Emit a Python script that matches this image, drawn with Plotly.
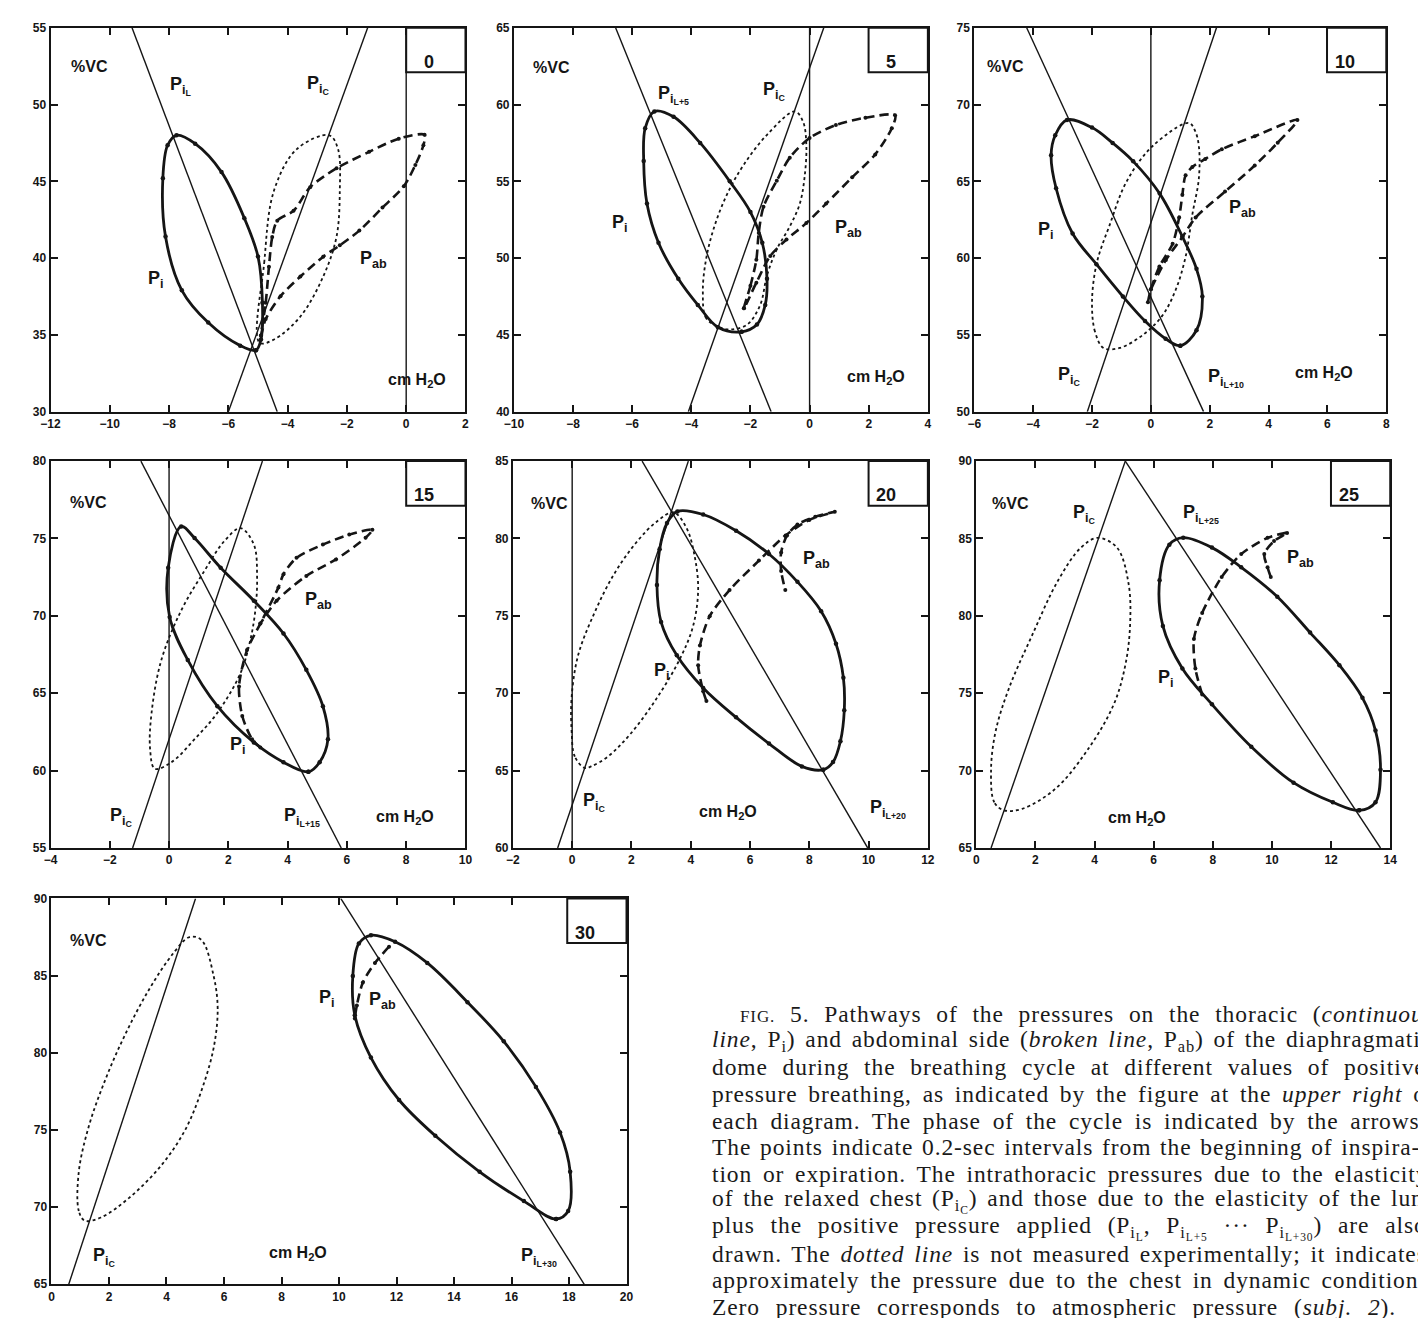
import plotly.graph_objects as go

W, H = 1418, 1318

# ---------------- data (x: cm H2O, y: %VC) ----------------
PRESSURES = ["0", "5", "10", "15", "20", "25", "30"]
LUNG_SUFFIX = ["L", "L+5", "L+10", "L+15", "L+20", "L+25", "L+30"]
X_RANGES = [(-12, 2), (-10, 4), (-6, 8), (-4, 10), (-2, 12), (0, 14), (0, 20)]
Y_RANGES = [(30, 55), (40, 65), (50, 75), (55, 80), (60, 85), (65, 90), (65, 90)]

# straight elastic lines (lung + applied pressure, relaxed chest)
PIL_LINES = [((-9.25, 55), (-4.35, 30)), ((-6.56, 65), (-1.30, 40)), ((-4.22, 75), (1.79, 50)),
             ((-0.95, 80), (5.81, 55)), ((2.36, 85), (9.97, 60)), ((5.04, 90), (13.67, 65)),
             ((10.06, 90), (18.53, 65))]
PIC_LINES = [((-6.0, 30), (-1.3, 55)), ((-4.1, 40), (0.48, 65)), ((-2.16, 50), (2.23, 75)),
             ((-1.23, 55), (3.15, 80)), ((-0.49, 60), (3.92, 85)), ((0.5, 65), (5.04, 90)),
             ((0.6, 65), (5.01, 90))]

# P_i (thoracic side, continuous line)
P0_PI = [(-5.07, 34.0), (-5.6, 34.3), (-6.68, 35.8), (-7.57, 37.9), (-8.12, 41.4), (-8.21, 45.2),
         (-8.05, 47.35), (-7.75, 48.0), (-7.12, 47.45), (-6.23, 45.6), (-5.46, 42.6), (-5.0, 40.1),
         (-4.85, 37.1), (-4.9, 34.7), (-5.07, 34.0)]
P5_PI = [(-2.3, 45.2), (-3.1, 45.5), (-3.78, 46.95), (-4.44, 48.65), (-5.11, 51.0), (-5.5, 53.55),
         (-5.61, 56.32), (-5.56, 58.46), (-5.25, 59.55), (-4.6, 59.2), (-3.7, 57.5), (-2.7, 55.0),
         (-2.0, 53.0), (-1.6, 51.0), (-1.44, 48.65), (-1.5, 46.95), (-1.78, 45.67), (-2.3, 45.2)]
P10_PI = [(1.0, 54.3), (0.5, 54.75), (-0.2, 55.9), (-0.95, 57.5), (-1.85, 59.6), (-2.66, 61.6),
          (-3.22, 64.55), (-3.39, 66.7), (-3.25, 68.0), (-2.85, 69.0), (-2.0, 68.5), (-1.3, 67.5),
          (-0.6, 66.3), (0.3, 64.2), (1.07, 61.4), (1.55, 59.3), (1.75, 57.5), (1.55, 55.3), (1.0, 54.3)]
P15_PI = [(4.7, 59.92), (3.86, 60.54), (2.86, 61.82), (1.63, 64.16), (0.63, 67.15), (0.02, 69.92),
          (-0.03, 73.11), (0.41, 75.78), (0.86, 75.03), (1.74, 73.11), (2.86, 70.98), (3.86, 68.86),
          (4.63, 66.51), (5.19, 64.16), (5.36, 62.03), (5.08, 60.54), (4.7, 59.92)]
P20_PI = [(8.47, 65.06), (7.75, 65.27), (6.64, 66.75), (5.53, 68.44), (4.42, 70.34), (3.53, 72.45),
          (3.0, 74.6), (2.86, 77.0), (2.95, 79.3), (3.2, 81.0), (3.55, 81.75), (4.42, 81.55),
          (5.53, 80.5), (6.64, 79.0), (7.6, 77.2), (8.4, 75.3), (8.9, 73.2), (9.15, 71.0), (9.18, 68.9),
          (9.05, 66.9), (8.8, 65.55), (8.47, 65.06)]
P25_PI = [(12.95, 67.43), (12.06, 67.95), (10.73, 69.22), (9.3, 71.54), (7.97, 74.28), (6.97, 76.6),
          (6.31, 79.35), (6.2, 82.3), (6.53, 84.6), (7.0, 85.05), (7.97, 84.41), (8.96, 83.14),
          (10.18, 81.24), (11.29, 78.92), (12.28, 76.81), (13.06, 74.7), (13.5, 72.59), (13.67, 70.06),
          (13.5, 67.95), (12.95, 67.43)]
P30_PI = [(17.55, 69.23), (16.43, 70.39), (14.89, 72.29), (13.35, 74.62), (12.09, 76.94), (11.11, 79.69),
          (10.55, 82.43), (10.48, 84.97), (10.69, 87.08), (11.11, 87.61), (11.95, 87.19), (13.07, 85.82),
          (14.47, 83.28), (15.73, 80.74), (16.85, 77.79), (17.69, 74.83), (18.04, 72.29), (17.97, 69.75),
          (17.55, 69.23)]

# chest in dynamic conditions (dotted line)
P0_PIC = [(-4.95, 34.5), (-4.79, 39.7), (-4.46, 44.4), (-3.69, 47.1), (-2.6, 48.0), (-2.30, 47.1),
          (-2.24, 44.4), (-2.35, 41.4), (-2.80, 38.8), (-3.57, 36.2), (-4.46, 34.7), (-4.95, 34.5)]
P5_PIC = [(-3.05, 45.5), (-3.5, 46.1), (-3.61, 47.8), (-3.5, 49.93), (-3.22, 52.06), (-2.78, 54.2),
          (-2.22, 56.1), (-1.44, 58.03), (-0.5, 59.55), (-0.22, 58.88), (-0.11, 57.39), (-0.17, 55.26),
          (-0.33, 53.55), (-0.67, 52.06), (-1.11, 50.57), (-1.44, 48.87), (-1.67, 46.95), (-2.11, 45.67),
          (-2.67, 45.35), (-3.05, 45.5)]
P10_PIC = [(-1.61, 54.15), (-1.9, 55.22), (-2.0, 57.13), (-1.84, 59.67), (-1.39, 62.21), (-0.83, 64.97),
           (0.06, 67.3), (1.29, 68.8), (1.5, 68.3), (1.63, 67.3), (1.63, 65.18), (1.41, 62.85),
           (1.18, 60.09), (0.85, 57.97), (0.4, 56.28), (-0.27, 55.0), (-1.06, 54.15), (-1.61, 54.15)]
P15_PIC = [(-0.48, 60.12), (0.08, 60.54), (0.86, 62.03), (1.63, 63.74), (2.41, 66.3), (2.74, 68.43),
           (2.91, 70.35), (2.97, 72.47), (2.86, 74.61), (2.41, 75.67), (1.86, 74.82), (1.19, 72.9),
           (0.41, 70.35), (-0.26, 67.15), (-0.59, 63.74), (-0.64, 61.39), (-0.48, 60.12)]
P20_PIC = [(0.42, 65.17), (0.09, 65.9), (-0.02, 67.59), (-0.02, 69.7), (0.2, 72.45), (0.75, 75.19),
           (1.42, 77.72), (2.2, 79.83), (2.86, 81.1), (3.42, 81.69), (3.86, 80.67), (4.14, 78.78),
           (4.25, 76.67), (4.08, 74.35), (3.64, 72.24), (2.86, 69.7), (1.97, 67.38), (1.2, 65.9),
           (0.64, 65.27), (0.42, 65.17)]
P25_PIC = [(0.94, 67.43), (0.61, 67.95), (0.5, 70.06), (0.66, 72.59), (1.11, 75.34), (1.88, 78.71),
           (2.77, 82.3), (3.54, 84.41), (4.1, 85.04), (4.76, 84.41), (5.15, 82.09), (5.2, 79.35),
           (5.04, 76.81), (4.65, 74.28), (3.76, 71.33), (2.66, 68.8), (1.55, 67.53), (0.94, 67.43)]
P30_PIC = [(1.16, 69.12), (0.95, 69.75), (0.95, 72.29), (1.3, 75.25), (1.86, 78.2), (2.56, 81.17),
           (3.4, 84.12), (4.24, 86.45), (4.8, 87.5), (5.22, 87.3), (5.64, 84.97), (5.78, 82.86),
           (5.64, 80.32), (5.22, 77.57), (4.66, 75.04), (3.82, 72.71), (2.7, 70.6), (1.72, 69.33),
           (1.16, 69.12)]

# P_ab (abdominal side, broken line)
P0_PAB = [(-4.90, 34.96), (-4.74, 37.09), (-4.63, 39.44), (-4.52, 41.37), (-4.35, 42.44), (-3.80, 43.08),
          (-3.24, 44.62), (-2.35, 45.85), (-1.25, 46.92), (-0.25, 47.78), (0.62, 48.03), (0.58, 47.35),
          (0.31, 46.07), (-0.08, 44.68), (-0.80, 43.29), (-1.58, 41.79), (-2.24, 40.83), (-2.80, 40.09),
          (-3.57, 38.80), (-4.24, 37.52), (-4.74, 36.03), (-4.90, 34.96)]
P5_PAB = [(-2.22, 46.73), (-2.0, 48.2), (-1.8, 49.9), (-1.72, 51.64), (-1.56, 53.34), (-1.11, 55.04),
          (-0.67, 56.54), (0.0, 57.82), (0.89, 58.67), (1.89, 59.14), (2.89, 59.3), (2.78, 58.46),
          (2.22, 56.75), (1.44, 55.26), (0.56, 53.55), (-0.11, 52.28), (-0.78, 51.21), (-1.33, 50.14),
          (-1.8, 48.4), (-2.22, 46.73)]
P10_PAB = [(-0.1, 57.13), (0.0, 57.97), (0.29, 59.46), (0.74, 60.94), (0.96, 62.64), (1.07, 64.12),
           (1.18, 65.4), (1.41, 65.93), (1.85, 66.46), (2.41, 67.09), (3.53, 67.94), (4.98, 69.0),
           (4.31, 67.52), (3.53, 66.03), (2.52, 64.33), (1.52, 62.64), (1.07, 61.37), (0.51, 59.88),
           (0.0, 57.97)]
P15_PAB = [(3.08, 61.5), (2.8, 62.03), (2.47, 63.53), (2.36, 65.44), (2.63, 67.79), (3.08, 69.5),
           (3.69, 71.84), (3.86, 72.69), (4.3, 73.75), (5.19, 74.61), (6.08, 75.25), (6.86, 75.57),
           (6.63, 75.05), (5.63, 73.65), (4.63, 72.58), (3.63, 70.98), (3.08, 69.5)]
P20_PAB = [(4.53, 69.49), (4.42, 70.13), (4.25, 71.81), (4.31, 73.08), (4.64, 74.98), (5.31, 76.67),
           (6.3, 78.57), (7.2, 80.2), (8.0, 81.2), (8.86, 81.73), (8.2, 81.4), (7.6, 80.9), (7.25, 80.2),
           (7.05, 79.1), (7.05, 77.9), (7.19, 76.67)]
P25_PAB = [(7.64, 74.92), (7.41, 76.6), (7.36, 78.5), (7.64, 80.19), (8.3, 82.51), (8.96, 83.99),
           (9.85, 85.04), (10.51, 85.36), (10.07, 84.83), (9.74, 83.99), (9.85, 83.14), (9.96, 82.51)]
P30_PAB = [(11.74, 86.87), (11.25, 85.82), (10.83, 84.55), (10.62, 83.07), (10.55, 82.22)]

PI_LOOPS = [P0_PI, P5_PI, P10_PI, P15_PI, P20_PI, P25_PI, P30_PI]
PIC_LOOPS = [P0_PIC, P5_PIC, P10_PIC, P15_PIC, P20_PIC, P25_PIC, P30_PIC]
PAB_LOOPS = [P0_PAB, P5_PAB, P10_PAB, P15_PAB, P20_PAB, P25_PAB, P30_PAB]

CAPTION = [
    "<span style='font-size:17px'>FIG.</span> 5. Pathways of the pressures on the thoracic (<i>continuous</i>",
    "<i>line</i>, P<sub>i</sub>) and abdominal side (<i>broken line</i>, P<sub>ab</sub>) of the diaphragmatic",
    "dome during the breathing cycle at different values of positive",
    "pressure breathing, as indicated by the figure at the <i>upper right</i> of",
    "each diagram. The phase of the cycle is indicated by the arrows.",
    "The points indicate 0.2-sec intervals from the beginning of inspira-",
    "tion or expiration. The intrathoracic pressures due to the elasticity",
    "of the relaxed chest (P<sub>i<sub>C</sub></sub>) and those due to the elasticity of the lung",
    "plus the positive pressure applied (P<sub>i<sub>L</sub></sub>, P<sub>i<sub>L+5</sub></sub> \u00b7\u00b7\u00b7 P<sub>i<sub>L+30</sub></sub>) are also",
    "drawn. The <i>dotted line</i> is not measured experimentally; it indicates",
    "approximately the pressure due to the chest in dynamic conditions.",
    "Zero pressure corresponds to atmospheric pressure (<i>subj. 2</i>).",
]
# extra spacing (px) between words of each justified caption line
CAPTION_WORD_SPACING = [8, 3, 8, 4, 5, 2, 4, 3, 9, 3, 4, 9]

# ---------------- layout helpers ----------------
PANEL_PIX = [(41, 461, 21, 409), (510, 929, 21, 409), (976, 1393, 21, 409),
             (41, 461, 459, 850), (509, 929, 459, 850), (978, 1397, 459, 850),
             (42, 624, 901, 1291)]

# label anchor points inside each panel (data coords)
LABEL_POS = [
    dict(vc=(-10.7, 52.5), pil=(-7.6, 51.2), pic=(-2.96, 51.3), pi=(-8.45, 38.6), pab=(-1.1, 39.9), cm=(0.35, 32.0)),
    dict(vc=(-8.72, 62.4), pil=(-4.6, 60.6), pic=(-1.19, 60.9), pi=(-6.4, 52.26), pab=(1.3, 51.9), cm=(2.25, 42.2)),
    dict(vc=(-4.94, 72.5), pil=(2.55, 52.2), pic=(-2.77, 52.3), pi=(-3.55, 61.8), pab=(3.12, 63.2), cm=(5.9, 52.5)),
    dict(vc=(-2.73, 77.3), pil=(4.5, 57.0), pic=(-1.62, 57.0), pi=(2.32, 61.6), pab=(5.04, 71.0), cm=(7.97, 57.0)),
    dict(vc=(-0.75, 82.26), pil=(10.65, 62.5), pic=(0.75, 62.95), pi=(3.03, 71.4), pab=(8.25, 78.67), cm=(5.25, 62.3)),
    dict(vc=(1.16, 87.26), pil=(7.6, 86.6), pic=(3.65, 86.6), pi=(6.42, 75.97), pab=(10.96, 83.7), cm=(5.42, 66.9)),
    dict(vc=(1.3, 87.3), pil=(16.95, 66.8), pic=(1.86, 66.8), pi=(9.57, 83.5), pab=(11.53, 83.4), cm=(8.59, 67.0)),
]

INK = "#151515"
SANS = "Liberation Sans, Arial, sans-serif"
LABEL_FONT = dict(family=SANS, size=16, color=INK)

fig = go.Figure()
annotations = []
shapes = []


def xy(pts):
    return [p[0] for p in pts], [p[1] for p in pts]


for i in range(7):
    n = "" if i == 0 else str(i + 1)
    xa, ya = "x" + n, "y" + n
    x0p, x1p, y0p, y1p = PANEL_PIX[i]
    wpx, hpx = x1p - x0p, y1p - y0p
    axis_common = dict(ticks="inside", ticklen=7, tickwidth=1.6, tickcolor=INK,
                       showline=True, linewidth=2, linecolor=INK, mirror="allticks",
                       showgrid=False, zeroline=False,
                       tickfont=dict(family=SANS, size=12, color=INK, weight="bold"))
    fig.update_layout(**{
        "xaxis" + n: dict(domain=[x0p / W, x1p / W], range=list(X_RANGES[i]), anchor=ya,
                          dtick=2, tick0=0, **axis_common),
        "yaxis" + n: dict(domain=[1 - y1p / H, 1 - y0p / H], range=list(Y_RANGES[i]), anchor=xa,
                          dtick=5, **axis_common),
    })
    common = dict(xaxis=xa, yaxis=ya, hoverinfo="skip", showlegend=False)

    # elastic straight lines
    (a, b) = PIL_LINES[i]
    fig.add_trace(go.Scatter(x=[a[0], b[0]], y=[a[1], b[1]], mode="lines",
                             line=dict(color=INK, width=1.4), **common))
    (a, b) = PIC_LINES[i]
    fig.add_trace(go.Scatter(x=[a[0], b[0]], y=[a[1], b[1]], mode="lines",
                             line=dict(color=INK, width=1.4), **common))
    # zero-pressure vertical
    if X_RANGES[i][0] < 0 < X_RANGES[i][1]:
        fig.add_trace(go.Scatter(x=[0, 0], y=list(Y_RANGES[i]), mode="lines",
                                 line=dict(color=INK, width=1.4), **common))

    # loops (with the 0.2-sec points)
    px, py = xy(PIC_LOOPS[i])
    fig.add_trace(go.Scatter(x=px, y=py, mode="lines", line=dict(color=INK, width=1.8, dash="dot",
                                                                 shape="spline", smoothing=1.0), **common))
    px, py = xy(PI_LOOPS[i])
    fig.add_trace(go.Scatter(x=px, y=py, mode="lines+markers",
                             line=dict(color=INK, width=2.8, shape="spline", smoothing=1.0),
                             marker=dict(size=4.5, color=INK), **common))
    px, py = xy(PAB_LOOPS[i])
    fig.add_trace(go.Scatter(x=px, y=py, mode="lines+markers",
                             line=dict(color=INK, width=2.6, dash="9px,5px", shape="spline",
                                       smoothing=0.8),
                             marker=dict(size=4, color=INK), **common))

    # number box at top right
    bw, bh = 60 / wpx, 45 / hpx
    shapes.append(dict(type="rect", xref=xa + " domain", yref=ya + " domain",
                       x0=1 - bw, x1=1, y0=1 - bh, y1=1, line=dict(color=INK, width=2),
                       fillcolor="white", layer="above"))
    annotations.append(dict(xref=xa + " domain", yref=ya + " domain", x=1 - bw / 2, y=1 - bh / 2,
                            text="<b>" + PRESSURES[i] + "</b>", showarrow=False,
                            font=dict(family=SANS, size=18, color=INK)))

    lp = LABEL_POS[i]

    def lab(key, text, size=16):
        annotations.append(dict(xref=xa, yref=ya, x=lp[key][0], y=lp[key][1], text=text,
                                showarrow=False, xanchor="center", yanchor="middle",
                                font=dict(LABEL_FONT, size=size)))
    lab("vc", "<b>%VC</b>", 16)
    lab("pil", "<b>P<sub>i<sub>" + LUNG_SUFFIX[i] + "</sub></sub></b>", 18)
    lab("pic", "<b>P<sub>i<sub>C</sub></sub></b>", 18)
    lab("pi", "<b>P<sub>i</sub></b>", 18)
    lab("pab", "<b>P<sub>ab</sub></b>", 18)
    lab("cm", "<b>cm H<sub>2</sub>O</b>", 16)

# caption (justified column, clipped by the page edge)
cap_y0, cap_dy = 1018, 26.9
for k, line in enumerate(CAPTION):
    styled = ("<span style='letter-spacing:0.9px;word-spacing:%dpx'>" % CAPTION_WORD_SPACING[k]) + line + "</span>"
    annotations.append(dict(xref="paper", yref="paper", x=(737 if k == 0 else 708) / W,
                            y=1 - (cap_y0 + k * cap_dy) / H, text=styled, showarrow=False,
                            xanchor="left", yanchor="middle", align="left",
                            font=dict(family="Liberation Serif, serif", size=23.5, color="#1a1a1a")))

fig.update_layout(width=W, height=H, margin=dict(l=0, r=0, t=0, b=0),
                  paper_bgcolor="white", plot_bgcolor="white",
                  annotations=annotations, shapes=shapes)

fig.write_html("out.html")
